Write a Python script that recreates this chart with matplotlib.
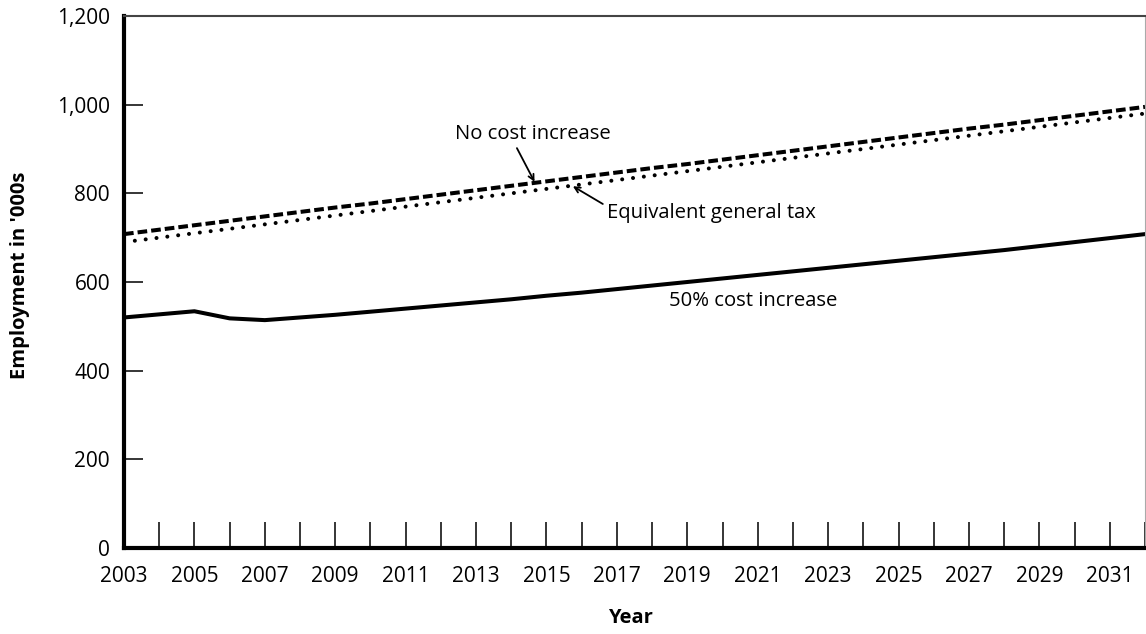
import matplotlib
matplotlib.use("Agg")
import matplotlib.pyplot as plt

years = list(range(2003, 2033))
no_cost_increase = [708, 718, 728, 738, 748, 758, 768, 777, 787, 797, 807, 817, 827,
                    837, 847, 857, 866, 876, 886, 896, 906, 916, 926, 936, 946, 955,
                    965, 975, 985, 995]
equivalent_general_tax = [690, 700, 710, 720, 730, 740, 750, 760, 770, 780, 790, 800,
                          810, 820, 830, 840, 850, 860, 870, 880, 890, 900, 910, 920,
                          930, 940, 950, 960, 970, 980]
cost_increase_50 = [520, 527, 534, 518, 514, 520, 526, 533, 540, 547, 554, 561, 569,
                    576, 584, 592, 600, 608, 616, 624, 632, 640, 648, 656, 664, 672,
                    681, 690, 699, 708]
x_tick_labels = [str(y) if (y - 2003) % 2 == 0 else "" for y in range(2003, 2033)]
y_ticks = [0, 200, 400, 600, 800, 1000, 1200]
y_tick_labels = ["0", "200", "400", "600", "800", "1,000", "1,200"]

plt.rcParams['font.family'] = ['Open Sans', 'DejaVu Sans']

fig = plt.figure(figsize=(11.46, 6.34), dpi=100)
ax = fig.add_axes([124 / 1146, (634 - 548) / 634, (1145 - 124) / 1146, (548 - 16) / 634])

ax.plot(years, cost_increase_50, color='black', lw=2.9, solid_joinstyle='round')
ax.plot(years, no_cost_increase, color='black', lw=2.9, linestyle=(0, (2.4, 1.0)))
ax.plot(years, equivalent_general_tax, color='black', lw=2.9, linestyle=(0, (0.01, 2.7)),
        dash_capstyle='round')

ax.set_xlim(2003, 2032)
ax.set_ylim(0, 1200)
ax.set_xticks(years)
ax.set_xticklabels(x_tick_labels)
ax.set_yticks(y_ticks)
ax.set_yticklabels(y_tick_labels)

ax.tick_params(axis='x', direction='in', length=19, width=1.1, pad=13, labelsize=15)
ax.tick_params(axis='y', direction='in', length=14, width=1.1, pad=10, labelsize=15)

for s in ['left', 'bottom']:
    ax.spines[s].set_linewidth(3)
    ax.spines[s].set_color('black')
ax.spines['top'].set_linewidth(1.5)
ax.spines['top'].set_color('#444444')
ax.spines['right'].set_linewidth(0.8)
ax.spines['right'].set_color('#aaaaaa')

ax.set_xlabel("Year", fontsize=14.5, fontweight='bold')
ax.set_ylabel("Employment in '000s", fontsize=14.5, fontweight='bold')
ax.xaxis.set_label_coords((630 - 124) / 1021, (548 - 608) / 532)
ax.yaxis.set_label_coords((30 - 124) / 1021, (548 - 275) / 532)

arrow = dict(arrowstyle='->', color='black', lw=1.3, shrinkA=0, shrinkB=0)
ax.annotate("", xy=(2014.66, 826), xytext=(2014.16, 902), arrowprops=arrow)
ax.annotate("", xy=(2015.75, 816), xytext=(2016.60, 776), arrowprops=arrow)

ax.text(2012.40, 934, "No cost increase", fontsize=14.6, ha='left', va='center')
ax.text(2016.73, 756, "Equivalent general tax", fontsize=14.6, ha='left', va='center')
ax.text(2018.49, 558, "50% cost increase", fontsize=14.6, ha='left', va='center')

fig.savefig("out.png", dpi=100)
